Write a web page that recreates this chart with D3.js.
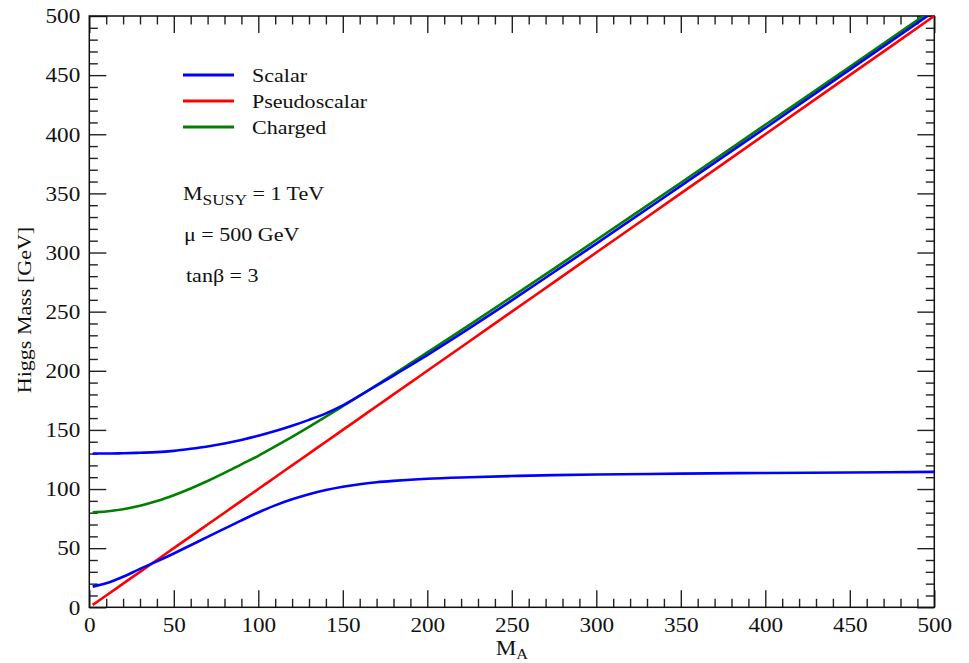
<!DOCTYPE html>
<html><head><meta charset="utf-8">
<script src="https://cdn.jsdelivr.net/npm/d3@7"></script>
<style>
html,body{margin:0;padding:0;background:#fff;}
svg{display:block;}
text{font-family:"Liberation Serif","Times New Roman",serif;fill:#111;}
</style></head>
<body>
<svg id="chart" width="969" height="663"></svg>
<script>
// ---- data ----
const massA = [2,10,20,30,40,50,60,70,80,90,100,110,120,130,140,150,160,170,180,190,200,225,250,275,300,350,400,450,500];
const scalarLight = [17.5,20.3,25.8,32.5,38.8,45.5,52.5,59.5,66.5,73.5,80.2,86.2,91.3,95.6,99.1,101.9,104.1,105.7,106.9,107.9,108.7,110,111,111.8,112.3,113,113.6,114,114.5];
const scalarHeavy = [130,130,130.3,130.7,131.2,132.3,134,136,138.5,141.5,145,149,153.5,158.5,164,170.8,179,187.5,196,204.5,213.3,236,259.5,283.5,307.5,356.3,405.3,454.6,504];
const pseudoscalar = [2,10,20,30,40,50,60,70,80,90,100,110,120,130,140,150,160,170,180,190,200,225,250,275,300,350,400,450,500];
const charged = [80.4,81,82.9,85.8,89.8,94.8,100.5,106.8,113.6,120.9,128.1,136,144.2,152.6,161.2,170,178.9,187.9,197,206.2,215.5,238.8,262.5,286.4,310.6,359,408,457,506.4];
const majorTicks = [0,50,100,150,200,250,300,350,400,450,500];
const minorTicks = d3.range(0,501,10).filter(v => v % 50 !== 0);
const legendNames = ["Scalar","Pseudoscalar","Charged"];
const legendColors = ["#0000ff","#ff0000","#008000"];

// ---- layout ----
const L = 89.3, R = 934.3, T = 16, B = 607.3;
const svg = d3.select("#chart");
const x = d3.scaleLinear().domain([0,500]).range([L,R]);
const y = d3.scaleLinear().domain([0,500]).range([B,T]);
const SX = 1.16;

svg.append("defs").append("clipPath").attr("id","clip")
  .append("rect").attr("x",L).attr("y",T).attr("width",R-L).attr("height",B-T);

function styleAxis(g){
  g.select(".domain").remove();
  g.selectAll(".tick line").attr("stroke","#222").attr("stroke-width",1.4);
}
// bottom
svg.append("g").attr("transform",`translate(0,${B})`)
  .call(d3.axisBottom(x).tickValues(majorTicks).tickSize(-17).tickPadding(10).tickFormat(d3.format("d")))
  .call(styleAxis)
  .call(g => g.selectAll("text").attr("font-size",20).attr("font-family","Liberation Serif").attr("fill","#111")
     .attr("y",24.5).attr("dy",0).attr("transform",`scale(${SX},1)`));
svg.append("g").attr("transform",`translate(0,${B})`)
  .call(d3.axisBottom(x).tickValues(minorTicks).tickSize(-8.5).tickFormat(""))
  .call(styleAxis);
// top
svg.append("g").attr("transform",`translate(0,${T})`)
  .call(d3.axisTop(x).tickValues(majorTicks).tickSize(-17).tickFormat(""))
  .call(styleAxis);
svg.append("g").attr("transform",`translate(0,${T})`)
  .call(d3.axisTop(x).tickValues(minorTicks).tickSize(-8.5).tickFormat(""))
  .call(styleAxis);
// left
svg.append("g").attr("transform",`translate(${L},0)`)
  .call(d3.axisLeft(y).tickValues(majorTicks).tickSize(-17).tickFormat(d3.format("d")))
  .call(styleAxis)
  .call(g => g.selectAll("text").attr("font-size",20).attr("font-family","Liberation Serif").attr("fill","#111")
     .attr("x",-9/SX).attr("dy","0.34em").attr("transform",`scale(${SX},1)`));
svg.append("g").attr("transform",`translate(${L},0)`)
  .call(d3.axisLeft(y).tickValues(minorTicks).tickSize(-8.5).tickFormat(""))
  .call(styleAxis);
// right
svg.append("g").attr("transform",`translate(${R},0)`)
  .call(d3.axisRight(y).tickValues(majorTicks).tickSize(-17).tickFormat(""))
  .call(styleAxis);
svg.append("g").attr("transform",`translate(${R},0)`)
  .call(d3.axisRight(y).tickValues(minorTicks).tickSize(-8.5).tickFormat(""))
  .call(styleAxis);

// frame
svg.append("rect").attr("x",L).attr("y",T).attr("width",R-L).attr("height",B-T)
  .attr("fill","none").attr("stroke","#111").attr("stroke-width",1.5);

// curves
const line = d3.line().x(d=>x(d[0])).y(d=>y(d[1])).curve(d3.curveMonotoneX);
const series = [
  {vals: pseudoscalar, color: legendColors[1]},
  {vals: scalarLight, color: legendColors[0]},
  {vals: charged, color: legendColors[2]},
  {vals: scalarHeavy, color: legendColors[0]}
];
const plot = svg.append("g").attr("clip-path","url(#clip)");
series.forEach(s => {
  plot.append("path").datum(massA.map((m,i)=>[m,s.vals[i]]))
    .attr("d",line).attr("fill","none").attr("stroke",s.color).attr("stroke-width",2.6);
});

// legend
const lg = svg.append("g");
legendNames.forEach((n,i) => {
  const yy = 75 + i*26;
  lg.append("line").attr("x1",183).attr("x2",234).attr("y1",yy).attr("y2",yy)
    .attr("stroke",legendColors[i]).attr("stroke-width",3);
  lg.append("text").attr("transform",`translate(252,${yy+7}) scale(${SX},1)`)
    .attr("font-size",19).text(n);
});

// annotations
const a1 = svg.append("text").attr("transform",`translate(183,200) scale(${SX},1)`).attr("font-size",19);
a1.append("tspan").text("M");
a1.append("tspan").attr("font-size",15).attr("dy",5).text("SUSY");
a1.append("tspan").attr("dy",-5).text(" = 1 TeV");
svg.append("text").attr("transform",`translate(184,241) scale(${SX},1)`).attr("font-size",19).text("μ = 500 GeV");
svg.append("text").attr("transform",`translate(186,282) scale(${SX},1)`).attr("font-size",19).text("tanβ = 3");

// axis titles
const xt = svg.append("text").attr("transform",`translate(${x(250)},655) scale(${SX},1)`)
  .attr("text-anchor","middle").attr("font-size",20);
xt.append("tspan").text("M");
xt.append("tspan").attr("font-size",14).attr("dy",4).text("A");
svg.append("text").attr("transform",`translate(31,310) rotate(-90) scale(${SX},1)`)
  .attr("text-anchor","middle").attr("font-size",19).text("Higgs Mass [GeV]");
</script>
</body></html>
